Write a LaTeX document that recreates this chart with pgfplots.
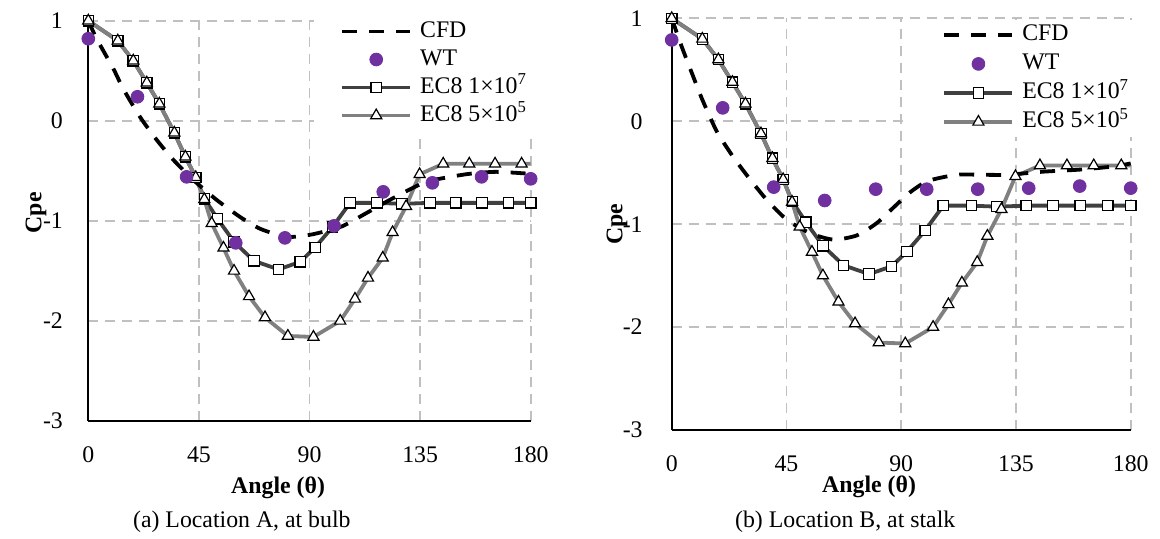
\documentclass[border=0pt]{standalone}
\usepackage{fontspec}
\setmainfont{Liberation Serif}
\usepackage{pgfplots}
\usepackage{pgfplotstable}
\pgfplotsset{compat=1.18}
\definecolor{wtpurple}{HTML}{7030A0}
\definecolor{ecdark}{HTML}{404040}
\definecolor{eclight}{HTML}{808080}
\definecolor{gridgray}{HTML}{C0C0C0}
\newcommand{\fs}{\fontsize{11.9}{14}\selectfont}

% EC8 profiles (same in both panels)
\pgfplotstableread{
ang cp
0 1.00
12 0.80
18.3 0.60
23.8 0.38
28.9 0.17
35 -0.12
39.5 -0.36
43.7 -0.565
47.3 -0.78
52.6 -0.98
59.3 -1.21
67.4 -1.40
77.4 -1.485
86.2 -1.41
92.3 -1.265
99.4 -1.06
106.5 -0.82
117.5 -0.82
127.6 -0.83
139 -0.82
149.5 -0.82
160.2 -0.82
171 -0.82
180 -0.82
}\ecAdata
\pgfplotstableread{
ang cp
0 1.00
12 0.80
18.3 0.60
23.8 0.38
28.9 0.17
35 -0.12
39.5 -0.36
43.7 -0.565
47.2 -0.785
50.2 -1.025
55 -1.27
59.3 -1.50
65.4 -1.755
71.9 -1.965
81.2 -2.15
91.6 -2.16
102.5 -2.00
108.5 -1.78
113.8 -1.57
119.8 -1.37
123.8 -1.115
129.3 -0.855
134.8 -0.535
144.4 -0.43
155 -0.43
165.5 -0.43
176.3 -0.43
180 -0.43
}\ecBdata
% location A
\pgfplotstableread{
ang cp
0 1.00
3.4 0.82
10.2 0.52
14.2 0.32
21 0.04
27.8 -0.19
34.6 -0.39
42.7 -0.59
52.2 -0.79
61.7 -0.96
70 -1.08
80.7 -1.16
90 -1.14
97 -1.10
103.7 -1.05
113.3 -0.92
122.7 -0.79
136.3 -0.62
145 -0.57
155 -0.53
166 -0.51
180 -0.53
}\cfdA
\pgfplotstableread{
ang cp
0 0.82
20 0.24
40 -0.56
60 -1.22
80 -1.17
100 -1.05
120 -0.71
140 -0.62
160 -0.56
180 -0.58
}\wtA
% location B
\pgfplotstableread{
ang cp
0 1.00
4 0.72
8.5 0.43
12 0.21
17.7 -0.10
24.2 -0.35
30.9 -0.57
37.5 -0.77
45.3 -0.96
54.5 -1.09
63.4 -1.15
72.5 -1.11
80.4 -0.99
86.9 -0.84
93.5 -0.69
100.5 -0.58
111.8 -0.52
121 -0.52
131.4 -0.52
145.7 -0.49
160 -0.47
173 -0.44
180 -0.41
}\cfdB
\pgfplotstableread{
ang cp
0 0.79
20 0.13
40 -0.64
60 -0.77
80 -0.66
100 -0.66
120 -0.66
140 -0.65
160 -0.63
180 -0.65
}\wtB

\pgfplotsset{
  cfd/.style={black, line width=1.9pt, dash pattern=on 7.5pt off 6pt, mark=none},
  wt/.style={wtpurple, only marks, mark=*, mark size=3.2pt, mark options={fill=wtpurple, draw=wtpurple, solid}},
  ecA/.style={ecdark, line width=1.9pt, mark=square*, mark size=2.6pt, mark options={solid, fill=white, draw=black, line width=0.6pt}},
  ecB/.style={eclight, line width=1.9pt, mark=triangle*, mark size=3.2pt, mark options={solid, fill=white, draw=black, line width=0.6pt}},
  panel/.style={
    scale only axis, xmin=0, xmax=180, ymin=-3, ymax=1,
    xtick={0,45,90,135,180}, xticklabels={0,45,90,135,180},
    ytick={-3,-2,-1,0,1}, yticklabels={-3,-2,-1,0,1},
    axis lines*=left, axis line style={black, line width=1.1pt},
    major tick length=0pt,
    grid=major, major grid style={draw=gridgray, line width=0.9pt, dash pattern=on 5pt off 3.5pt},
    tick label style={font=\fs},
    label style={font=\fs\bfseries},
    xlabel={Angle (θ)}, ylabel={Cpe},
    clip=false,
    legend cell align=left,
    legend image code/.code={\draw[mark repeat=2,mark phase=2,##1] plot coordinates {(0pt,0pt) (17pt,0pt) (34pt,0pt)};},
  },
}

\begin{document}
\begin{tikzpicture}
\useasboundingbox (0,0) rectangle (580pt,-269pt);

\begin{axis}[panel,
  at={(44.15pt,-210.5pt)}, anchor=south west,
  width=221.2pt, height=200.15pt,
  xticklabel style={yshift=-9.5pt},
  yticklabel style={xshift=-9.2pt},
  xlabel style={at={(axis description cs:0.429,0)}, anchor=center, yshift=-33.5pt},
  ylabel style={at={(axis description cs:-0.118,0.52)}, anchor=center},
  legend style={at={(axis description cs:0.51,1)}, anchor=north west, yshift=5.4pt,
    draw=none, fill=white, inner xsep=13pt, inner ysep=5pt, font=\fs, row sep=2.8pt,
    nodes={inner sep=0pt, text height=8.6pt, text depth=2.6pt},
    /tikz/every odd column/.append style={column sep=4pt}},
]
\addlegendimage{cfd}\addlegendentry{CFD}
\addlegendimage{wt}\addlegendentry{WT}
\addlegendimage{ecA}\addlegendentry{EC8 1×10\textsuperscript{7}}
\addlegendimage{ecB}\addlegendentry{EC8 5×10\textsuperscript{5}}
\addplot[ecA, mark=none, forget plot] table[x=ang, y=cp] {\ecAdata};
\addplot[ecB, mark=none, forget plot] table[x=ang, y=cp] {\ecBdata};
\addplot[cfd, smooth, tension=0.4, forget plot] table[x=ang, y=cp] {\cfdA};
\addplot[ecA, only marks, forget plot] table[x=ang, y=cp] {\ecAdata};
\addplot[ecB, only marks, restrict x to domain=0:178, forget plot] table[x=ang, y=cp] {\ecBdata};
\addplot[wt, forget plot] table[x=ang, y=cp] {\wtA};
\node[font=\fs, yshift=-50.5pt] at (axis description cs:0.347,0) {(a) Location A, at bulb};
\end{axis}

\begin{axis}[panel,
  at={(335.85pt,-215pt)}, anchor=south west,
  width=229.5pt, height=205.85pt,
  xticklabel style={yshift=-9.2pt},
  yticklabel style={xshift=-11pt},
  xlabel style={at={(axis description cs:0.43,0)}, anchor=center, yshift=-28.5pt},
  ylabel style={at={(axis description cs:-0.119,0.50)}, anchor=center},
  legend style={at={(axis description cs:0.502,1)}, anchor=north west, yshift=-0.5pt,
    draw=none, fill=white, inner xsep=20pt, inner ysep=2pt, font=\fs, row sep=3.3pt,
    nodes={inner sep=0pt, text height=8.6pt, text depth=2.6pt},
    /tikz/every odd column/.append style={column sep=4pt}},
]
\addlegendimage{cfd}\addlegendentry{CFD}
\addlegendimage{wt}\addlegendentry{WT}
\addlegendimage{ecA}\addlegendentry{EC8 1×10\textsuperscript{7}}
\addlegendimage{ecB}\addlegendentry{EC8 5×10\textsuperscript{5}}
\addplot[ecA, mark=none, forget plot] table[x=ang, y=cp] {\ecAdata};
\addplot[ecB, mark=none, forget plot] table[x=ang, y=cp] {\ecBdata};
\addplot[cfd, smooth, tension=0.4, forget plot] table[x=ang, y=cp] {\cfdB};
\addplot[ecA, only marks, forget plot] table[x=ang, y=cp] {\ecAdata};
\addplot[ecB, only marks, restrict x to domain=0:178, forget plot] table[x=ang, y=cp] {\ecBdata};
\addplot[wt, forget plot] table[x=ang, y=cp] {\wtB};
\node[font=\fs, yshift=-46pt] at (axis description cs:0.378,0) {(b) Location B, at stalk};
\end{axis}
\end{tikzpicture}
\end{document}
